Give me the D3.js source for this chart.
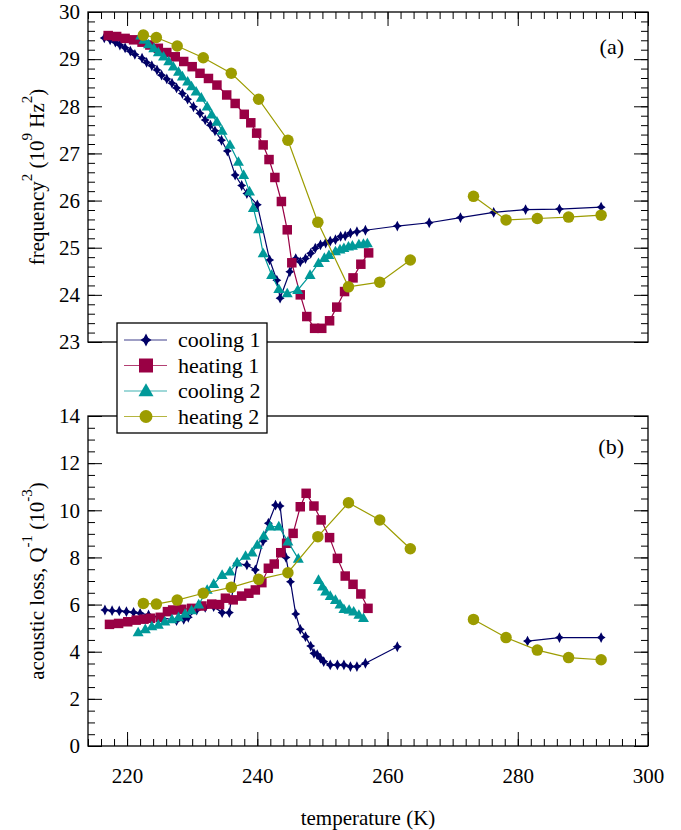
<!DOCTYPE html>
<html lang="en">
<head>
<meta charset="UTF-8">
<title>Frequency and acoustic loss vs temperature</title>
<script src="https://d3js.org/d3.v7.min.js"></script>
<style>
  body { margin: 0; background: #fff; }
  svg text { font-family: "Liberation Serif", "Times New Roman", serif; fill: #000; }
</style>
</head>
<body>
<div id="chart"></div>
<script>
// ---- values (null = gap in the curve) ----
const seriesNames = ["cooling 1", "heating 1", "cooling 2", "heating 2"];

// panel (a): frequency^2, 10^9 Hz^2
const cool1TempF = [216.5, 217.4, 218.2, 218.9, 219.7, 220.5, 221.2, 222.3, 223.0, 223.8, 224.6, 225.3, 226.1, 226.9, 227.6, 228.5, 229.3, 230.2, 231.2, 232.0, 232.8, 233.5, 234.5, 235.4, 236.6, 237.6, 238.4, 240.0, 241.9, 243.0, 243.5, 245.0, 245.9, 246.6, 247.4, 248.2, 248.9, 249.7, 250.5, 251.2, 252.0, 252.8, 253.5, 254.3, 255.3, 256.6, 261.5, 266.4, 271.2, 276.3, 281.2, 286.4, 292.8];
const cool1Freq = [29.45, 29.41, 29.36, 29.30, 29.24, 29.17, 29.10, 29.02, 28.93, 28.86, 28.77, 28.66, 28.58, 28.49, 28.39, 28.27, 28.15, 27.99, 27.85, 27.71, 27.60, 27.48, 27.28, 27.05, 26.54, 26.32, 26.15, 25.91, 24.74, 24.31, 23.93, 24.49, 24.77, 24.70, 24.77, 24.88, 24.99, 25.06, 25.10, 25.14, 25.17, 25.24, 25.25, 25.31, 25.34, 25.37, 25.46, 25.53, 25.64, 25.75, 25.81, 25.82, 25.86];

const heat1TempF = [217.1, 218.4, 219.7, 221.0, 222.3, 223.5, 224.8, 226.1, 227.4, 228.7, 230.0, 231.2, 232.5, 233.8, 235.3, 236.6, 238.0, 239.0, 239.9, 240.9, 241.8, 242.7, 243.7, 244.6, 245.3, 246.6, 247.6, 248.8, 249.9, 251.1, 252.2, 253.4, 254.7, 255.9, 257.1];
const heat1Freq = [29.50, 29.48, 29.44, 29.41, 29.36, 29.30, 29.23, 29.14, 29.05, 28.95, 28.84, 28.70, 28.59, 28.45, 28.24, 28.06, 27.83, 27.65, 27.43, 27.18, 26.87, 26.49, 25.98, 25.38, 24.68, 24.00, 23.54, 23.29, 23.29, 23.45, 23.74, 24.07, 24.36, 24.65, 24.89];

const cool2TempF = [222.1, 222.6, 223.3, 224.1, 224.8, 225.6, 226.4, 227.1, 227.9, 228.5, 229.3, 229.9, 230.6, 231.4, 232.3, 233.0, 233.8, 234.6, 235.8, 237.1, 237.9, 238.8, 239.4, 240.2, 240.9, 242.2, 243.3, 244.6, 246.2, 248.1, 249.4, 250.3, 251.0, 252.0, 252.7, 253.3, 254.0, 254.6, 255.6, 256.3, 256.9];
const cool2Freq = [29.50, 29.41, 29.31, 29.23, 29.14, 29.05, 28.95, 28.84, 28.73, 28.63, 28.52, 28.42, 28.31, 28.18, 27.99, 27.82, 27.67, 27.48, 27.18, 26.82, 26.54, 26.19, 25.84, 25.39, 24.88, 24.42, 24.12, 24.03, 24.10, 24.42, 24.67, 24.78, 24.84, 24.92, 24.96, 24.99, 25.02, 25.04, 25.07, 25.08, 25.09];

// heating 2 was measured at the same temperatures in both panels
const heat2Temp = [222.5, 224.5, 227.7, 231.7, 236.0, 240.2, 244.7, 249.3, 254.0, 258.8, 263.5, null, 273.2, 278.2, 283.0, 287.8, 292.8];
const heat2Freq = [29.51, 29.46, 29.28, 29.03, 28.70, 28.15, 27.28, 25.54, 24.17, 24.27, 24.74, null, 26.09, 25.59, 25.62, 25.65, 25.69];

// panel (b): acoustic loss, 10^-3
const cool1TempQ = [216.6, 217.7, 218.8, 219.9, 221.0, 222.0, 223.3, 227.6, 228.7, 229.4, 230.7, 232.0, 233.3, 234.6, 235.7, 236.9, 238.4, 239.7, 240.9, 241.7, 242.8, 243.5, 244.4, 245.1, 245.9, 246.6, 247.4, 248.2, 248.7, 249.2, 249.7, 250.2, 251.2, 252.3, 253.3, 254.3, 255.3, 256.6, 261.5, null, 281.5, 286.4, 292.8];
const cool1Loss = [5.77, 5.74, 5.73, 5.70, 5.67, 5.63, 5.56, 5.32, 5.37, 5.46, 5.77, 5.88, 5.91, 5.66, 5.66, 7.75, 7.68, 7.47, 8.70, 9.45, 10.22, 10.18, 8.00, 6.97, 5.60, 4.95, 4.64, 4.24, 3.93, 3.88, 3.72, 3.58, 3.44, 3.44, 3.44, 3.37, 3.37, 3.51, 4.21, null, 4.45, 4.60, 4.60];

const heat1TempQ = [217.3, 218.7, 220.1, 221.4, 222.6, 223.6, 225.1, 226.2, 227.0, 228.4, 229.9, 231.5, 233.0, 234.2, 235.1, 236.3, 237.6, 238.7, 239.7, 240.7, 241.7, 242.6, 243.6, 244.5, 245.5, 246.6, 247.5, 248.7, 249.8, 251.1, 252.3, 253.5, 254.7, 255.9, 257.0];
const heat1Loss = [5.16, 5.20, 5.27, 5.34, 5.38, 5.42, 5.46, 5.70, 5.77, 5.80, 5.84, 5.94, 6.02, 6.00, 6.27, 6.20, 6.36, 6.48, 6.62, 6.93, 7.54, 7.72, 8.20, 8.60, 9.02, 10.15, 10.72, 10.18, 9.59, 8.84, 7.96, 7.21, 6.86, 6.45, 5.84];

const cool2TempQ = [221.7, 222.8, 223.8, 224.8, 225.8, 226.9, 227.9, 228.9, 229.9, 231.0, 232.3, 233.3, 234.6, 235.8, 236.9, 238.2, 239.2, 240.0, 241.0, 242.0, 243.3, 244.7, 246.3, null, 249.4, 250.0, 250.5, 251.2, 252.0, 252.7, 253.3, 254.1, 254.8, 255.6, 256.3];
const cool2Loss = [4.82, 4.95, 5.07, 5.14, 5.27, 5.37, 5.46, 5.60, 5.75, 6.00, 6.62, 6.87, 7.25, 7.40, 7.78, 8.06, 8.20, 8.53, 8.91, 9.31, 9.31, 8.67, 7.94, null, 7.04, 6.76, 6.55, 6.36, 6.19, 6.00, 5.80, 5.77, 5.70, 5.56, 5.42];

const heat2Loss = [6.05, 6.02, 6.19, 6.48, 6.73, 7.07, 7.35, 8.88, 10.32, 9.59, 8.37, null, 5.37, 4.60, 4.07, 3.75, 3.66];

const xTicks = [220, 240, 260, 280, 300];
const freqTicks = [23, 24, 25, 26, 27, 28, 29, 30];
const lossTicks = [0, 2, 4, 6, 8, 10, 12, 14];

// ---- look ----
const colors = ["#000066", "#990044", "#009999", "#9c9c00"];
const shapes = ["diamond", "square", "triangle", "circle"];

const width = 681, height = 830;
const left = 88, right = 648;

const x = d3.scaleLinear().domain([214, 300]).range([left, right]);
const yFreq = d3.scaleLinear().domain([23, 30]).range([342, 12]);
const yLoss = d3.scaleLinear().domain([0, 14]).range([746, 416]);

const svg = d3.select("#chart").append("svg")
    .attr("width", width)
    .attr("height", height)
    .style("background", "#fff");

function shapePath(shape, s) {
    if (shape === "square") {
        const h = s / 2;
        return `M${-h},${-h}H${h}V${h}H${-h}Z`;
    }
    if (shape === "triangle") {
        const w = s / 2, h = s * 0.87;
        return `M0,${-h * 0.6}L${w},${h * 0.4}L${-w},${h * 0.4}Z`;
    }
    if (shape === "circle") {
        const r = s / 2;
        return `M${r},0A${r},${r} 0 1,1 ${-r},0A${r},${r} 0 1,1 ${r},0Z`;
    }
    // four-point diamond with slightly pinched sides
    const ht = s * 0.6, w = s * 0.5, c = s * 0.2;
    return `M0,${-ht}L${c},${-c}L${w},0L${c},${c}L0,${ht}L${-c},${c}L${-w},0L${-c},${-c}Z`;
}

const markSize = { diamond: 9, square: 9.5, triangle: 11, circle: 11.5 };
const legendSize = { diamond: 11, square: 14, triangle: 15, circle: 13 };

function drawAxes(y, majors, minorStep, showTop, showBottom) {
    const [y0, y1] = y.domain();
    const minors = d3.range(y0, y1 + 1e-9, minorStep);
    const xMinors = d3.range(214, 300.001, 2);
    const clean = g => {
        g.select(".domain").remove();
        g.selectAll("line").attr("stroke", "#000");
    };

    svg.append("g").attr("transform", `translate(${left},0)`)
        .call(d3.axisLeft(y).tickValues(minors).tickSize(-7).tickFormat(""))
        .call(clean);
    svg.append("g").attr("transform", `translate(${left},0)`)
        .call(d3.axisLeft(y).tickValues(majors).tickSize(-14).tickPadding(8).tickFormat(d3.format("d")))
        .call(clean)
        .call(g => g.selectAll("text").attr("font-size", 21).attr("font-family", "Liberation Serif"));
    svg.append("g").attr("transform", `translate(${right},0)`)
        .call(d3.axisRight(y).tickValues(minors).tickSize(-7).tickFormat(""))
        .call(clean);
    svg.append("g").attr("transform", `translate(${right},0)`)
        .call(d3.axisRight(y).tickValues(majors).tickSize(-14).tickFormat(""))
        .call(clean);

    if (showTop) {
        const yy = y.range()[1];
        svg.append("g").attr("transform", `translate(0,${yy})`)
            .call(d3.axisTop(x).tickValues(xMinors).tickSize(-7).tickFormat(""))
            .call(clean);
        svg.append("g").attr("transform", `translate(0,${yy})`)
            .call(d3.axisTop(x).tickValues(xTicks).tickSize(-14).tickFormat(""))
            .call(clean);
    }
    if (showBottom) {
        const yy = y.range()[0];
        svg.append("g").attr("transform", `translate(0,${yy})`)
            .call(d3.axisBottom(x).tickValues(xMinors).tickSize(-7).tickFormat(""))
            .call(clean);
        svg.append("g").attr("transform", `translate(0,${yy})`)
            .call(d3.axisBottom(x).tickValues(xTicks).tickSize(-14).tickPadding(22).tickFormat(d3.format("d")))
            .call(clean)
            .call(g => g.selectAll("text").attr("font-size", 21).attr("font-family", "Liberation Serif"));
    }

    // drop the empty label nodes d3 leaves on tick groups with tickFormat("")
    svg.selectAll(".tick text").filter(function () { return this.textContent === ""; }).remove();

    svg.append("rect")
        .attr("x", left).attr("y", y.range()[1])
        .attr("width", right - left).attr("height", y.range()[0] - y.range()[1])
        .attr("fill", "none").attr("stroke", "#000").attr("stroke-width", 1.3);
}

function drawSeries(y, temps, vals, i) {
    const pts = d3.zip(temps, vals).map(([t, v]) => ({ t, v }));
    const line = d3.line()
        .defined(d => d.v != null && d.t != null)
        .x(d => x(d.t))
        .y(d => y(d.v));

    const g = svg.append("g");
    g.append("path")
        .datum(pts)
        .attr("d", line)
        .attr("fill", "none")
        .attr("stroke", colors[i])
        .attr("stroke-width", 1.2);

    g.selectAll("path.mark")
        .data(pts.filter(d => d.v != null && d.t != null))
        .join("path")
        .attr("class", "mark")
        .attr("d", shapePath(shapes[i], markSize[shapes[i]]))
        .attr("transform", d => `translate(${x(d.t)},${y(d.v)})`)
        .attr("fill", colors[i]);
}

// panel (a)
drawAxes(yFreq, freqTicks, 0.2, true, false);
drawSeries(yFreq, cool1TempF, cool1Freq, 0);
drawSeries(yFreq, heat1TempF, heat1Freq, 1);
drawSeries(yFreq, cool2TempF, cool2Freq, 2);
drawSeries(yFreq, heat2Temp, heat2Freq, 3);

// panel (b)
drawAxes(yLoss, lossTicks, 0.5, false, true);
drawSeries(yLoss, cool1TempQ, cool1Loss, 0);
drawSeries(yLoss, heat1TempQ, heat1Loss, 1);
drawSeries(yLoss, cool2TempQ, cool2Loss, 2);
drawSeries(yLoss, heat2Temp, heat2Loss, 3);

// panel letters
svg.append("text").attr("x", 624).attr("y", 54).attr("text-anchor", "end")
    .attr("font-size", 22).text("(a)");
svg.append("text").attr("x", 624).attr("y", 454).attr("text-anchor", "end")
    .attr("font-size", 22).text("(b)");

// axis titles
svg.append("text")
    .attr("x", (left + right) / 2).attr("y", 825)
    .attr("text-anchor", "middle").attr("font-size", 21)
    .text("temperature (K)");

function yTitle(cy, parts) {
    const t = svg.append("text")
        .attr("transform", `translate(44,${cy}) rotate(-90)`)
        .attr("text-anchor", "middle")
        .attr("font-size", 21);
    let shift = 0;
    parts.forEach(([s, sup]) => {
        const span = t.append("tspan").text(s);
        if (sup) {
            span.attr("dy", -12 - shift).attr("font-size", 15);
            shift = -12;
        } else if (shift) {
            span.attr("dy", -shift);
            shift = 0;
        }
    });
}
yTitle((yFreq.range()[0] + yFreq.range()[1]) / 2,
    [["frequency"], ["2", true], [" (10"], ["9", true], [" Hz"], ["2", true], [")"]]);
yTitle((yLoss.range()[0] + yLoss.range()[1]) / 2,
    [["acoustic loss, Q"], ["-1", true], [" (10"], ["-3", true], [")"]]);

// legend
const lg = svg.append("g").attr("transform", "translate(117,323)");
lg.append("rect").attr("width", 150).attr("height", 110)
    .attr("fill", "#fff").attr("stroke", "#000").attr("stroke-width", 1.3);
seriesNames.forEach((name, i) => {
    const yy = 17 + i * 25.5;
    lg.append("line").attr("x1", 7).attr("x2", 50).attr("y1", yy).attr("y2", yy)
        .attr("stroke", colors[i]).attr("stroke-width", 1.2).attr("stroke-opacity", 0.75);
    lg.append("path").attr("d", shapePath(shapes[i], legendSize[shapes[i]]))
        .attr("transform", `translate(29,${yy})`).attr("fill", colors[i]);
    lg.append("text").attr("x", 61).attr("y", yy + 7).attr("font-size", 22).text(name);
});
</script>
</body>
</html>
